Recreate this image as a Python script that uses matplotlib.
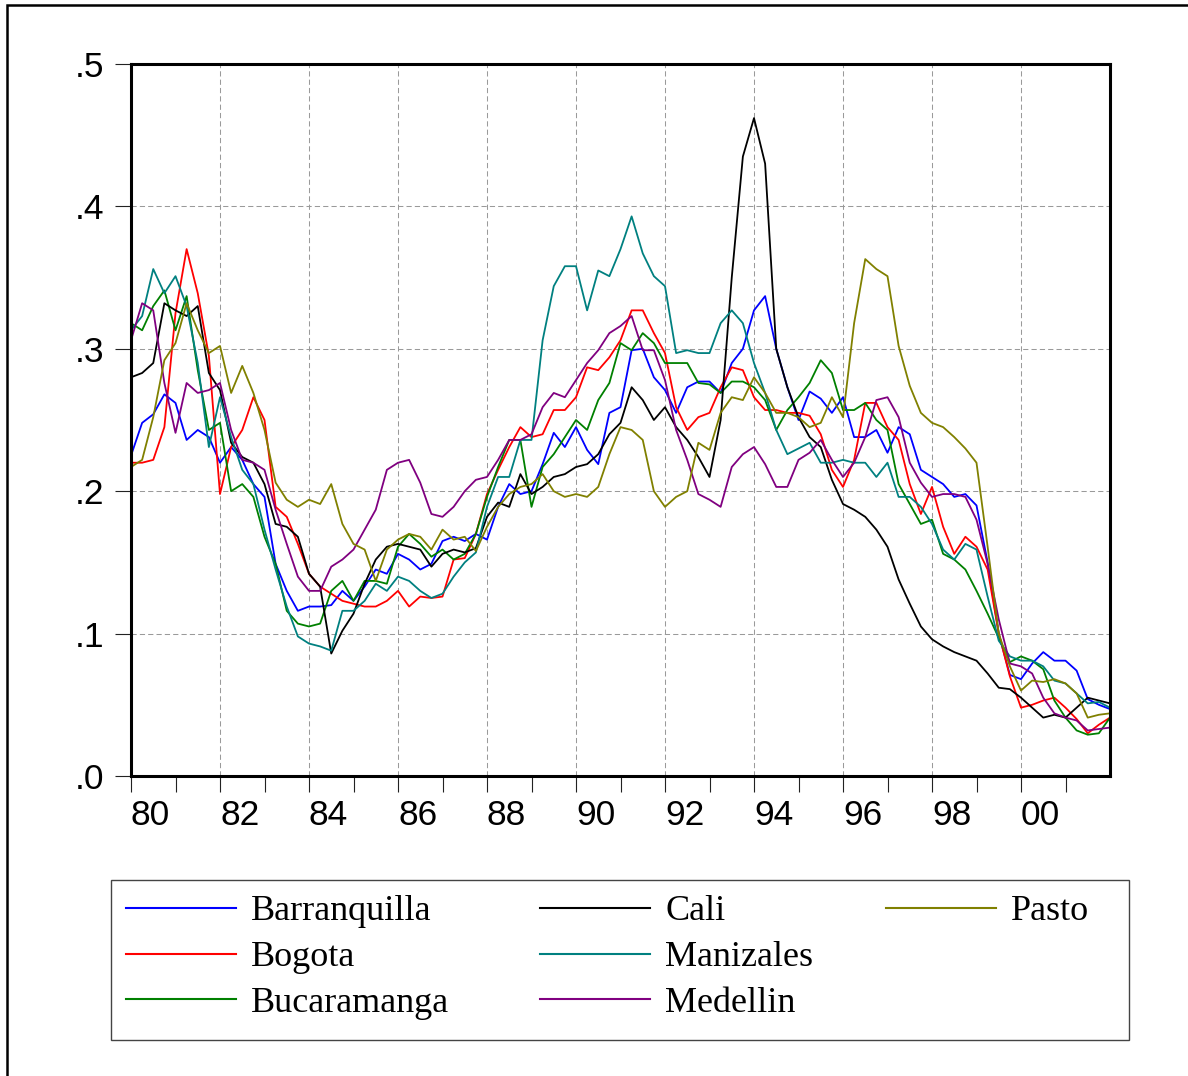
import numpy as np
import matplotlib.pyplot as plt
from matplotlib.lines import Line2D
from matplotlib.patches import Rectangle

# quarterly readings, 1980Q1 .. 2002Q1
dates = 1980 + np.arange(89) * 0.25

barranquilla = [
    0.225, 0.248, 0.254, 0.268,
    0.262, 0.236, 0.243, 0.238,
    0.220, 0.231, 0.222, 0.205,
    0.196, 0.149, 0.130, 0.116,
    0.119, 0.119, 0.120, 0.130,
    0.123, 0.133, 0.145, 0.142,
    0.156, 0.152, 0.145, 0.149,
    0.165, 0.168, 0.165, 0.170,
    0.166, 0.189, 0.205, 0.198,
    0.200, 0.219, 0.241, 0.231,
    0.245, 0.229, 0.219, 0.255,
    0.259, 0.299, 0.300, 0.280,
    0.271, 0.255, 0.273, 0.277,
    0.277, 0.269, 0.290, 0.300,
    0.327, 0.337, 0.300, 0.273,
    0.250, 0.270, 0.265, 0.255,
    0.266, 0.238, 0.238, 0.243,
    0.227, 0.245, 0.240, 0.215,
    0.210, 0.205, 0.196, 0.198,
    0.190, 0.150, 0.100, 0.071,
    0.068, 0.079, 0.087, 0.081,
    0.081, 0.074, 0.054, 0.050,
    0.047,
]

bogota = [
    0.220, 0.220, 0.222, 0.245,
    0.325, 0.370, 0.339, 0.295,
    0.198, 0.231, 0.243, 0.266,
    0.250, 0.189, 0.182, 0.163,
    0.142, 0.133, 0.128, 0.123,
    0.121, 0.119, 0.119, 0.123,
    0.130, 0.119, 0.126, 0.125,
    0.126, 0.152, 0.153, 0.170,
    0.198, 0.215, 0.231, 0.245,
    0.238, 0.240, 0.257, 0.257,
    0.266, 0.287, 0.285, 0.294,
    0.306, 0.327, 0.327, 0.311,
    0.297, 0.259, 0.243, 0.252,
    0.255, 0.273, 0.287, 0.285,
    0.266, 0.257, 0.257, 0.255,
    0.255, 0.253, 0.240, 0.215,
    0.203, 0.222, 0.262, 0.262,
    0.245, 0.236, 0.205, 0.184,
    0.203, 0.175, 0.156, 0.168,
    0.161, 0.145, 0.100, 0.070,
    0.048, 0.050, 0.053, 0.055,
    0.048, 0.040, 0.030, 0.036,
    0.041,
]

bucaramanga = [
    0.318, 0.313, 0.330, 0.341,
    0.313, 0.337, 0.285, 0.243,
    0.248, 0.200, 0.205, 0.196,
    0.168, 0.149, 0.116, 0.107,
    0.105, 0.107, 0.130, 0.137,
    0.123, 0.137, 0.137, 0.135,
    0.161, 0.170, 0.163, 0.154,
    0.159, 0.152, 0.156, 0.170,
    0.196, 0.217, 0.236, 0.236,
    0.189, 0.217, 0.226, 0.238,
    0.250, 0.243, 0.264, 0.276,
    0.304, 0.299, 0.311, 0.304,
    0.290, 0.290, 0.290, 0.276,
    0.275, 0.269, 0.277, 0.277,
    0.273, 0.264, 0.243, 0.257,
    0.266, 0.276, 0.292, 0.283,
    0.257, 0.257, 0.262, 0.250,
    0.243, 0.205, 0.191, 0.177,
    0.180, 0.156, 0.152, 0.145,
    0.130, 0.114, 0.097, 0.080,
    0.084, 0.081, 0.075, 0.053,
    0.041, 0.032, 0.029, 0.030,
    0.041,
]

cali = [
    0.280, 0.283, 0.290, 0.332,
    0.327, 0.323, 0.330, 0.283,
    0.271, 0.234, 0.224, 0.220,
    0.205, 0.177, 0.175, 0.168,
    0.142, 0.133, 0.086, 0.102,
    0.114, 0.135, 0.152, 0.161,
    0.163, 0.161, 0.159, 0.147,
    0.156, 0.159, 0.157, 0.160,
    0.182, 0.192, 0.189, 0.212,
    0.198, 0.203, 0.210, 0.212,
    0.217, 0.219, 0.226, 0.240,
    0.248, 0.273, 0.264, 0.250,
    0.259, 0.245, 0.236, 0.224,
    0.210, 0.250, 0.350, 0.435,
    0.462, 0.430, 0.300, 0.273,
    0.252, 0.238, 0.231, 0.208,
    0.191, 0.187, 0.182, 0.173,
    0.161, 0.138, 0.121, 0.105,
    0.096, 0.091, 0.087, 0.084,
    0.081, 0.072, 0.062, 0.061,
    0.055, 0.048, 0.041, 0.043,
    0.041, 0.048, 0.055, 0.053,
    0.051,
]

manizales = [
    0.313, 0.323, 0.356, 0.339,
    0.351, 0.330, 0.290, 0.231,
    0.266, 0.238, 0.215, 0.205,
    0.173, 0.145, 0.119, 0.098,
    0.093, 0.091, 0.088, 0.116,
    0.116, 0.123, 0.135, 0.130,
    0.140, 0.137, 0.130, 0.125,
    0.128, 0.140, 0.150, 0.157,
    0.189, 0.210, 0.210, 0.236,
    0.236, 0.306, 0.344, 0.358,
    0.358, 0.327, 0.355, 0.351,
    0.370, 0.393, 0.367, 0.351,
    0.344, 0.297, 0.299, 0.297,
    0.297, 0.318, 0.327, 0.318,
    0.290, 0.269, 0.243, 0.226,
    0.230, 0.234, 0.220, 0.220,
    0.222, 0.220, 0.220, 0.210,
    0.220, 0.196, 0.196, 0.189,
    0.177, 0.159, 0.152, 0.163,
    0.159, 0.126, 0.095, 0.084,
    0.081, 0.081, 0.077, 0.067,
    0.065, 0.058, 0.051, 0.052,
    0.048,
]

medellin = [
    0.306, 0.332, 0.327, 0.276,
    0.241, 0.276, 0.269, 0.271,
    0.276, 0.243, 0.222, 0.220,
    0.215, 0.187, 0.163, 0.140,
    0.130, 0.130, 0.147, 0.152,
    0.159, 0.173, 0.187, 0.215,
    0.220, 0.222, 0.206, 0.184,
    0.182, 0.189, 0.200, 0.208,
    0.210, 0.222, 0.236, 0.236,
    0.240, 0.259, 0.269, 0.266,
    0.278, 0.290, 0.299, 0.311,
    0.316, 0.323, 0.299, 0.299,
    0.278, 0.243, 0.222, 0.198,
    0.194, 0.189, 0.217, 0.226,
    0.231, 0.219, 0.203, 0.203,
    0.222, 0.227, 0.236, 0.222,
    0.210, 0.220, 0.238, 0.264,
    0.266, 0.252, 0.220, 0.206,
    0.196, 0.198, 0.198, 0.196,
    0.180, 0.149, 0.110, 0.079,
    0.077, 0.072, 0.055, 0.044,
    0.041, 0.039, 0.032, 0.033,
    0.034,
]

pasto = [
    0.217, 0.222, 0.252, 0.292,
    0.304, 0.332, 0.313, 0.297,
    0.302, 0.269, 0.288, 0.269,
    0.243, 0.206, 0.194, 0.189,
    0.194, 0.191, 0.205, 0.177,
    0.163, 0.159, 0.137, 0.159,
    0.166, 0.170, 0.168, 0.159,
    0.173, 0.166, 0.168, 0.158,
    0.175, 0.189, 0.198, 0.203,
    0.205, 0.212, 0.200, 0.196,
    0.198, 0.196, 0.203, 0.226,
    0.245, 0.243, 0.236, 0.200,
    0.189, 0.196, 0.200, 0.234,
    0.229, 0.255, 0.266, 0.264,
    0.280, 0.269, 0.255, 0.255,
    0.252, 0.245, 0.248, 0.266,
    0.252, 0.318, 0.363, 0.356,
    0.351, 0.302, 0.274, 0.255,
    0.248, 0.245, 0.238, 0.230,
    0.220, 0.161, 0.100, 0.077,
    0.060, 0.067, 0.066, 0.068,
    0.065, 0.058, 0.041, 0.043,
    0.044,
]

cities = ['Barranquilla', 'Bogota', 'Bucaramanga', 'Cali', 'Manizales', 'Medellin', 'Pasto']
series = [barranquilla, bogota, bucaramanga, cali, manizales, medellin, pasto]
colors = ['#0000ff', '#ff0000', '#008000', '#000000', '#008080', '#800080', '#808000']

W, H = 1188, 1076
fig = plt.figure(figsize=(W / 100, H / 100), dpi=100)
ax = fig.add_axes([131 / W, 1 - 776 / H, (1110 - 131) / W, (776 - 64) / H])

for vals, c in zip(series, colors):
    ax.plot(dates, vals, color=c, lw=1.3)

ax.set_xlim(1980, 2002)
ax.set_ylim(0, 0.5)

even_years = np.arange(1980, 2002, 2)
ax.set_xticks(even_years)
ax.set_xticklabels(['%02d' % (y % 100) for y in even_years])
ax.set_xticks(np.arange(1981, 2002, 2), minor=True)
ax.set_yticks([0, 0.1, 0.2, 0.3, 0.4, 0.5])
ax.set_yticklabels(['.0', '.1', '.2', '.3', '.4', '.5'])

for lab in ax.get_xticklabels() + ax.get_yticklabels():
    lab.set_fontfamily('Liberation Sans')
    lab.set_fontsize(25.5)
for lab in ax.get_xticklabels():
    lab.set_ha('left')

ax.tick_params(axis='both', which='both', direction='out', length=11.5, width=0.8, color='#222222')
ax.tick_params(axis='x', which='major', pad=5)
ax.tick_params(axis='y', which='major', pad=8)

ax.grid(True, which='major', color='#9a9a9a', lw=0.75, ls=(0, (5, 3)))
ax.set_axisbelow(True)
for sp in ax.spines.values():
    sp.set_linewidth(2.2)
    sp.set_color('black')

# outer frame of the graph window
fig.patches.append(Rectangle((7 / W, -0.1), 1.2, 1.1 - 5 / H, transform=fig.transFigure,
                             fill=False, ec='black', lw=1.8))

# legend box with three columns
fig.patches.append(Rectangle((111 / W, 1 - 1040 / H), (1129 - 111) / W, 160 / H,
                             transform=fig.transFigure, fill=False, ec='#444444', lw=1.0))
col_x = [126, 540, 886]
col_items = [[0, 1, 2], [3, 4, 5], [6]]
for x0, idx in zip(col_x, col_items):
    handles = [Line2D([], [], color=colors[i], lw=1.5) for i in idx]
    leg = fig.legend(handles, [cities[i] for i in idx], loc='upper left',
                     bbox_to_anchor=(x0 / W, 1 - 895 / H), frameon=False,
                     borderpad=0, borderaxespad=0, handlelength=3.05,
                     handletextpad=0.42, labelspacing=0.35,
                     prop={'family': 'Liberation Serif', 'size': 26})

fig.savefig('out.png', dpi=100)
